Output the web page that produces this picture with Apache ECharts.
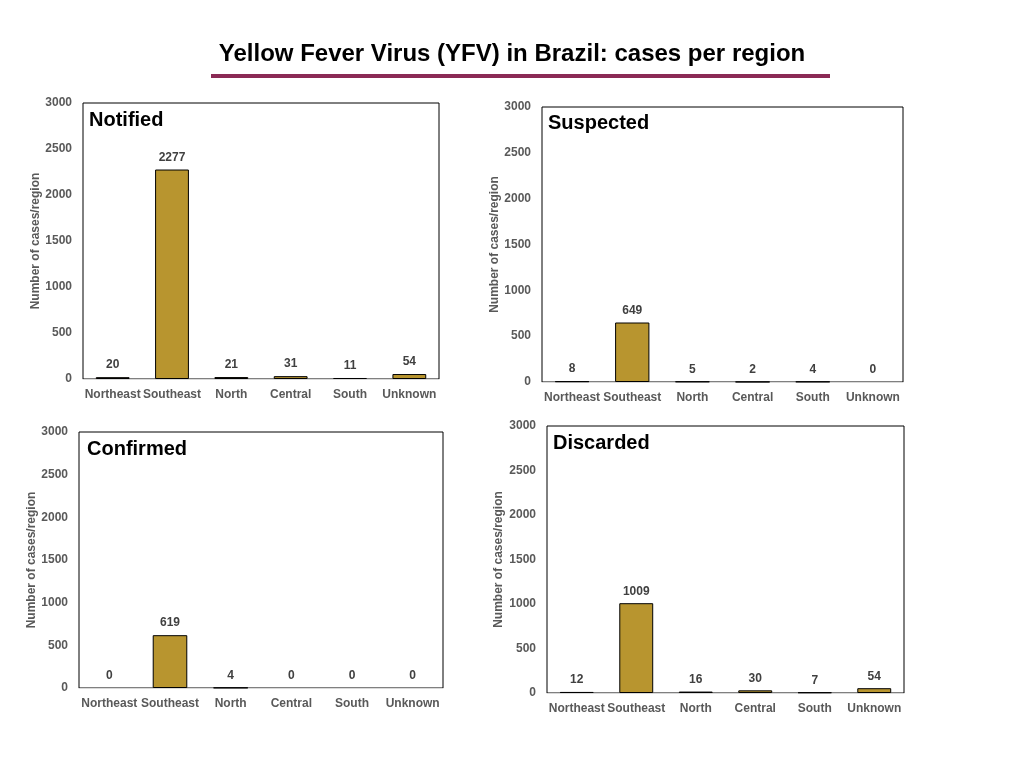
<!DOCTYPE html>
<html>
<head>
<meta charset="utf-8">
<title>Yellow Fever Virus (YFV) in Brazil</title>
<script src="https://cdn.jsdelivr.net/npm/echarts@6/dist/echarts.min.js"></script>
<style>
  html, body { margin: 0; padding: 0; background: #fff; }
  #chart { width: 1024px; height: 768px; }
</style>
</head>
<body>
<div id="chart"></div>
<script>
// categories and values per panel
var regions = ['Northeast', 'Southeast', 'North', 'Central', 'South', 'Unknown'];
var notified = [20, 2277, 21, 31, 11, 54];
var suspected = [8, 649, 5, 2, 4, 0];
var confirmed = [0, 619, 4, 0, 0, 0];
var discarded = [12, 1009, 16, 30, 7, 54];
var panelNames = ['Notified', 'Suspected', 'Confirmed', 'Discarded'];
var yMin = 0, yMax = 3000, yStep = 500;

var chart = echarts.init(document.getElementById('chart'));

// plot box of each panel (px)
var boxes = [
    { left: 83, top: 103, width: 356, height: 276, nameGap: 41, tx: 89, ty: 110 },
    { left: 542, top: 107, width: 361, height: 275, nameGap: 41, tx: 548, ty: 113 },
    { left: 79, top: 432, width: 364, height: 256, nameGap: 40, tx: 87, ty: 439 },
    { left: 547, top: 426, width: 357, height: 267, nameGap: 42, tx: 553, ty: 433 }
];
var panelData = [notified, suspected, confirmed, discarded];

var font = 'Liberation Sans, Arial, Helvetica, sans-serif';
var grids = [], xAxes = [], yAxes = [], series = [];
var titles = [{
    text: 'Yellow Fever Virus (YFV) in Brazil: cases per region',
    left: 'center',
    top: 37,
    textStyle: { fontFamily: font, fontSize: 24, fontWeight: 'bold', color: '#000' }
}];

boxes.forEach(function (b, i) {
    grids.push({
        left: b.left, top: b.top, width: b.width, height: b.height,
        show: true, borderColor: '#000', borderWidth: 1, backgroundColor: '#fff'
    });
    xAxes.push({
        type: 'category', gridIndex: i, data: regions,
        axisLine: { lineStyle: { color: '#d9d9d9', width: 1 } },
        axisTick: { show: false },
        axisLabel: { fontFamily: font, fontSize: 12, fontWeight: 'bold', color: '#595959', margin: 10, interval: 0 }
    });
    yAxes.push({
        type: 'value', gridIndex: i, min: yMin, max: yMax, interval: yStep,
        name: 'Number of cases/region', nameLocation: 'middle', nameGap: b.nameGap,
        nameTextStyle: { fontFamily: font, fontSize: 12, fontWeight: 'bold', color: '#595959' },
        axisLine: { show: false }, axisTick: { show: false }, splitLine: { show: false },
        axisLabel: {
            fontFamily: font, fontSize: 12, fontWeight: 'bold', color: '#595959', margin: 11,
            formatter: function (v) { return String(v); }
        }
    });
    series.push({
        type: 'bar', xAxisIndex: i, yAxisIndex: i,
        // zero values: no visible bar, label only
        data: panelData[i].map(function (v) {
            return v === 0
                ? { value: v, itemStyle: { color: 'transparent', borderColor: 'transparent', borderWidth: 0 } }
                : v;
        }),
        barWidth: '57%',
        itemStyle: { color: '#B8952F', borderColor: '#000', borderWidth: 1 },
        label: {
            show: true, position: 'top', distance: 6,
            fontFamily: font, fontSize: 12, fontWeight: 'bold', color: '#404040'
        }
    });
    titles.push({
        text: panelNames[i],
        left: b.tx, top: b.ty, padding: 0,
        textStyle: { fontFamily: font, fontSize: 20, fontWeight: 'bold', color: '#000' }
    });
});

var option = {
    animation: false,
    backgroundColor: '#fff',
    title: titles,
    grid: grids,
    xAxis: xAxes,
    yAxis: yAxes,
    series: series,
    graphic: [{
        type: 'rect',
        shape: { x: 211, y: 74, width: 619, height: 4 },
        style: { fill: '#8B2A55' }
    }]
};
chart.setOption(option);
</script>
</body>
</html>
